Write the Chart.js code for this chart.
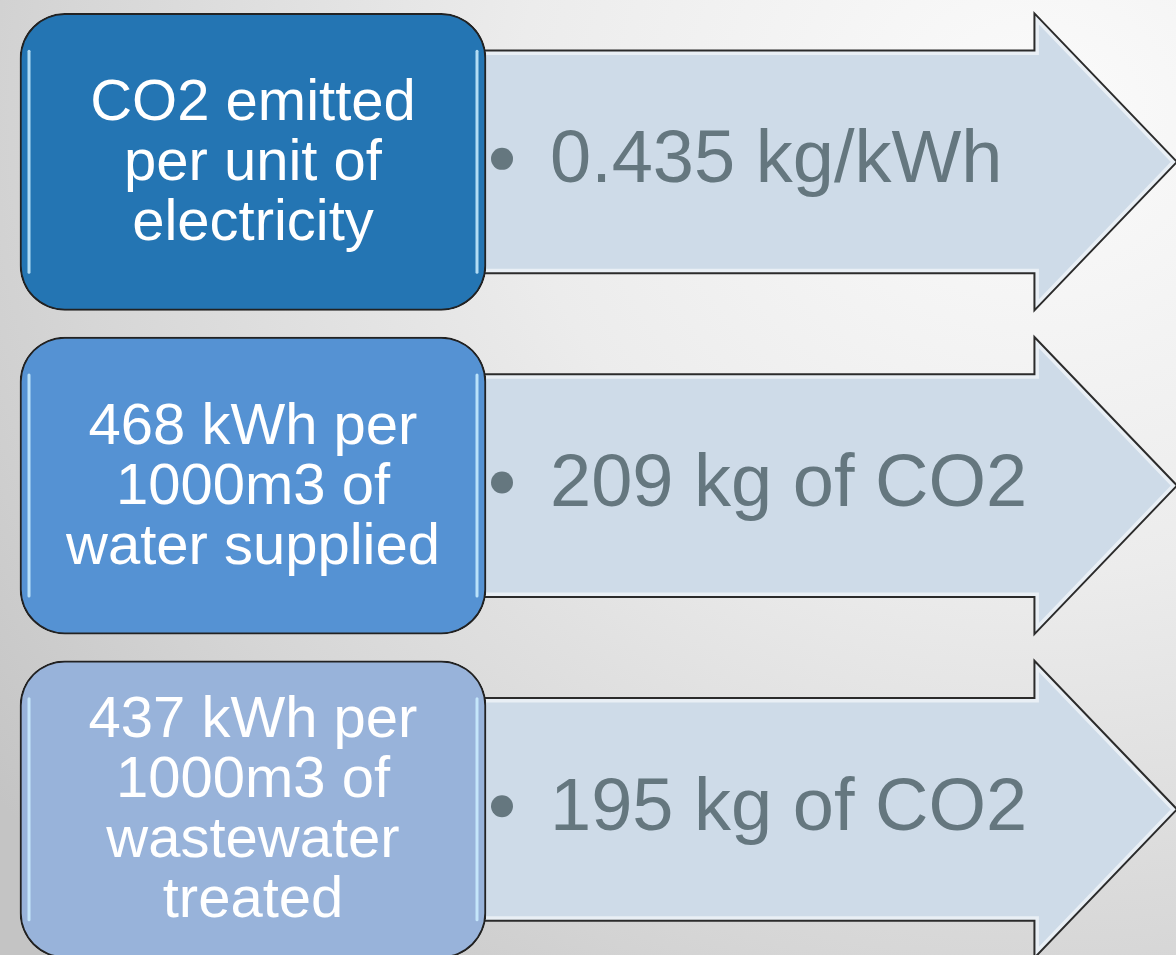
<!DOCTYPE html>
<html>
<head>
<meta charset="utf-8">
<script src="https://cdn.jsdelivr.net/npm/chart.js@4"></script>
<style>
  html, body { margin: 0; padding: 0; }
  body {
    width: 1176px; height: 955px; overflow: hidden;
    background: radial-gradient(ellipse 110% 120% at 88% 12%, #fbfbfb 0%, #ececec 40%, #d6d6d6 75%, #c4c4c4 100%);
  }
  canvas { display: block; }
</style>
</head>
<body>
<canvas id="diagram" width="1176" height="955"></canvas>
<script>
// rows of the diagram, top to bottom
const rowPos = [0, 1, 2];
const boxLabels = [
  ["CO2 emitted", "per unit of", "electricity"],
  ["468 kWh per", "1000m3 of", "water supplied"],
  ["437 kWh per", "1000m3 of", "wastewater", "treated"]
];
const arrowValues = ["0.435 kg/kWh", "209 kg of CO2", "195 kg of CO2"];
const boxColors = ["#2475b3", "#5592d3", "#98b3da"];

const boxSpan = [20, 486];
const arrowSpan = [470, 1177];

const arrowShape = {
  id: "arrowShape",
  beforeDatasetDraw(chart, args) {
    if (chart.data.datasets[args.index].label !== "arrows") return;
    const ctx = chart.ctx;
    args.meta.data.forEach(el => {
      const { x, y, base, height } = el.getProps(["x", "y", "base", "height"], true);
      const half = height / 2, body = half * 0.75, neck = x - height * 0.48;
      ctx.save();
      ctx.beginPath();
      ctx.moveTo(base, y - body);
      ctx.lineTo(neck, y - body);
      ctx.lineTo(neck, y - half);
      ctx.lineTo(x, y);
      ctx.lineTo(neck, y + half);
      ctx.lineTo(neck, y + body);
      ctx.lineTo(base, y + body);
      ctx.closePath();
      ctx.fillStyle = "#cedbe8";
      ctx.fill();
      ctx.save();
      ctx.clip();
      ctx.strokeStyle = "rgba(255,255,255,0.55)";
      ctx.lineWidth = 9;
      ctx.stroke();
      ctx.restore();
      ctx.strokeStyle = "#2b2b2b";
      ctx.lineWidth = 2;
      ctx.stroke();
      ctx.restore();
    });
    return false;
  },
  afterDatasetDraw(chart, args) {
    if (chart.data.datasets[args.index].label !== "boxes") return;
    const ctx = chart.ctx;
    args.meta.data.forEach(el => {
      const { x, y, base, height } = el.getProps(["x", "y", "base", "height"], true);
      const top = y - height / 2, bottom = y + height / 2;
      ctx.save();
      ctx.strokeStyle = "rgba(205,238,255,0.85)";
      ctx.lineWidth = 3;
      ctx.lineCap = "round";
      [base + 9, x - 9].forEach(px => {
        ctx.beginPath();
        ctx.moveTo(px, top + 38);
        ctx.lineTo(px, bottom - 38);
        ctx.stroke();
      });
      ctx.restore();
    });
  },
  afterDatasetsDraw(chart) {
    const ctx = chart.ctx;
    const boxes = chart.getDatasetMeta(0).data;
    const arrows = chart.getDatasetMeta(1).data;
    ctx.save();
    ctx.textAlign = "center";
    ctx.textBaseline = "alphabetic";
    ctx.fillStyle = "#ffffff";
    ctx.font = '58px "Liberation Sans", Arial, sans-serif';
    boxes.forEach((el, i) => {
      const { x, y, base } = el.getProps(["x", "y", "base"], true);
      const lines = boxLabels[i];
      lines.forEach((t, k) => {
        ctx.fillText(t, (x + base) / 2, y + (k - (lines.length - 1) / 2) * 60 + 18);
      });
    });
    ctx.textAlign = "left";
    ctx.textBaseline = "middle";
    ctx.font = '74px "Liberation Sans", Arial, sans-serif';
    ctx.fillStyle = "#65777f";
    arrows.forEach((el, i) => {
      const { y, base } = el.getProps(["y", "base"], true);
      ctx.beginPath();
      ctx.arc(base + 32, y - 3, 11, 0, Math.PI * 2);
      ctx.fill();
      ctx.fillText(arrowValues[i], base + 80, y);
    });
    ctx.restore();
  }
};

new Chart(document.getElementById("diagram").getContext("2d"), {
  type: "bar",
  data: {
    datasets: [
      {
        label: "boxes",
        order: 0,
        data: rowPos.map(r => ({ x: boxSpan, y: r })),
        backgroundColor: boxColors,
        borderColor: "#222222",
        borderWidth: 2,
        borderRadius: 45,
        borderSkipped: false
      },
      {
        label: "arrows",
        order: 1,
        data: rowPos.map(r => ({ x: arrowSpan, y: r })),
        backgroundColor: "#cedbe8"
      }
    ]
  },
  options: {
    indexAxis: "y",
    responsive: false,
    animation: false,
    devicePixelRatio: 1,
    layout: { padding: 0 },
    datasets: { bar: { grouped: false, barThickness: 297 } },
    plugins: { legend: { display: false }, tooltip: { enabled: false } },
    scales: {
      x: { type: "linear", min: 0, max: 1176, display: false },
      y: { type: "linear", min: -0.5, max: 2.45, reverse: true, offset: false, display: false }
    }
  },
  plugins: [arrowShape]
});
</script>
</body>
</html>
